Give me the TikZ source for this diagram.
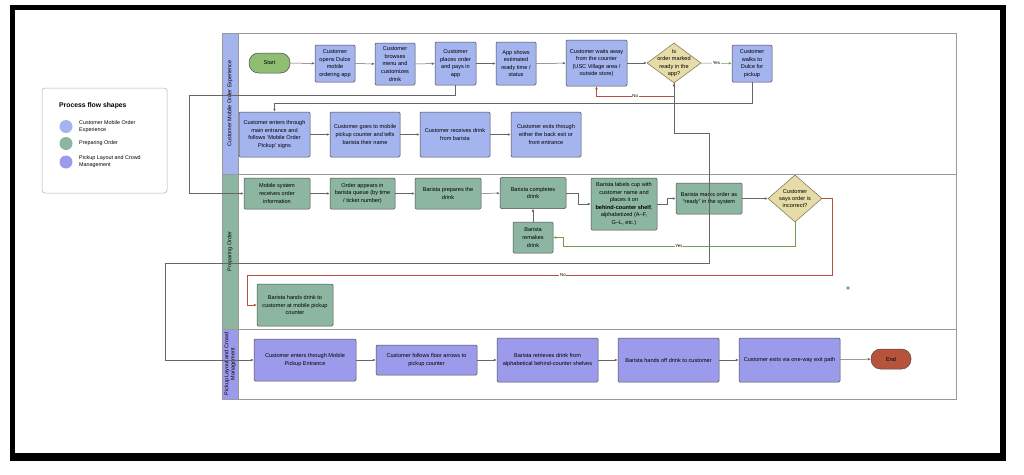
\documentclass[tikz,border=0pt]{standalone}
\usepackage{fontspec}
\setmainfont{Liberation Sans}
\usepackage{xcolor}
\usetikzlibrary{shapes.geometric, arrows.meta, positioning}

\definecolor{laneblue}{HTML}{A4B4EE}
\definecolor{lanegreen}{HTML}{8DB6A2}
\definecolor{lanepurple}{HTML}{9C9BEB}
\definecolor{decision}{HTML}{E6DCA8}
\definecolor{decborder}{HTML}{7A7050}
\definecolor{startgreen}{HTML}{8FBE73}
\definecolor{endred}{HTML}{B5533B}
\definecolor{nored}{HTML}{B5503C}
\definecolor{yesgreen}{HTML}{6E9E4E}
\definecolor{dotteal}{HTML}{5AA6A0}

\begin{document}
\begin{tikzpicture}[x=1pt, y=-1pt,
            box/.style={draw=black!70, rectangle, rounded corners=1.2pt, line width=0.5pt, align=center, inner sep=1pt, font=\fontsize{5.6}{7.6}\selectfont},
            sz/.style 2 args={minimum width=#1pt, minimum height=#2pt},
            dec/.style={draw=decborder, diamond, fill=decision, line width=0.5pt, inner sep=0pt},
            dectext/.style={align=center, inner sep=0pt, font=\fontsize{5.6}{7.4}\selectfont},
            ends/.style={draw=black!70, rectangle, rounded corners=9.5pt, line width=0.5pt, font=\fontsize{5.6}{7}\selectfont, minimum width=41pt, minimum height=20pt},
            flow/.style={draw=black!60, line width=0.5pt, -{Latex[length=3pt, width=2.6pt]}},
            noflow/.style={flow, draw=nored},
            yesflow/.style={flow, draw=yesgreen},
            tag/.style={fill=white, inner sep=0.6pt, font=\fontsize{4.4}{5}\selectfont},
            lane/.style={draw=black!40, line width=0.5pt},
            lanetitle/.style={rotate=90, align=center, inner sep=0pt, font=\fontsize{5.5}{6.3}\selectfont},
            legtext/.style={anchor=west, align=left, inner sep=0pt, font=\fontsize{5.4}{7}\selectfont}]

            \useasboundingbox (0,0) rectangle (1024,474);
            \fill[black] (10,5) rectangle (1006,461);
            \fill[white] (15,10) rectangle (1000,453);

            % legend
            \draw[black!30, line width=0.5pt, rounded corners=3pt] (42,88) rectangle (167,193);
            \node[anchor=west, inner sep=0pt, font=\fontsize{6.8}{8}\selectfont\bfseries] (legtitle) at (59,106) {Process flow shapes};
            \fill[laneblue] (66,126.5) circle (6.5);
            \fill[lanegreen] (66,143.5) circle (6.5);
            \fill[lanepurple] (66,162) circle (6.5);
            \node[legtext] (legA) at (79,126.5) {Customer Mobile Order\\Experience};
            \node[legtext] (legB) at (79,143.5) {Preparing Order};
            \node[legtext] (legC) at (79,162) {Pickup Layout and Crowd\\Management};

            % lanes
            \fill[laneblue] (222,33) rectangle (238,174);
            \fill[lanegreen] (222,174) rectangle (238,329);
            \fill[lanepurple] (222,329) rectangle (238,399);
            \draw[lane] (222,33) rectangle (956,399);
            \draw[lane] (222,174) -- (956,174);
            \draw[lane] (222,329) -- (956,329);
            \draw[lane] (238,33) -- (238,399);
            \node[lanetitle] (laneA) at (230,103.5) {Customer Mobile Order Experience};
            \node[lanetitle] (laneB) at (230,251.5) {Preparing Order};
            \node[lanetitle] (laneC) at (230,364) {Pickup Layout and Crowd\\Management};

            % customer mobile order experience
            \node[ends, fill=startgreen] (start) at (269.5,63) {Start};
            \node[box, sz={40}{37}, fill=laneblue] (opens) at (335,63.5) {Customer\\opens Dulce\\mobile\\ordering app};
            \node[box, sz={40}{42}, fill=laneblue] (browses) at (395,64) {Customer\\browses\\menu and\\customizes\\drink};
            \node[box, sz={41}{43}, fill=laneblue] (places) at (455.5,63.5) {Customer\\places order\\and pays in\\app};
            \node[box, sz={40}{43}, fill=laneblue] (appshows) at (516,63.5) {App shows\\estimated\\ready time /\\status};
            \node[box, sz={61}{46}, fill=laneblue] (waits) at (596.5,63) {Customer waits away\\from the counter\\(USC Village area /\\outside store)};
            \node[dec, minimum width=54pt, minimum height=40pt, label={[dectext]center:Is\\order marked\\ready in the\\app?}] (ready) at (674,63) {};
            \node[box, sz={40}{37}, fill=laneblue] (walks) at (752,63.5) {Customer\\walks to\\Dulce for\\pickup};
            \node[box, sz={71}{45}, fill=laneblue] (enters) at (274.5,134.5) {Customer enters through\\main entrance and\\follows `Mobile Order\\Pickup' signs};
            \node[box, sz={70}{45}, fill=laneblue] (goes) at (365,134.5) {Customer goes to mobile\\pickup counter and tells\\barista their name};
            \node[box, sz={70}{45}, fill=laneblue] (receives) at (455,134.5) {Customer receives drink\\from barista};
            \node[box, sz={70}{45}, fill=laneblue] (leaves) at (546,134.5) {Customer exits through\\either the back exit or\\front entrance};

            % preparing order
            \node[box, sz={66}{31}, fill=lanegreen] (mobile) at (277,193.5) {Mobile system\\receives order\\information};
            \node[box, sz={65}{31}, fill=lanegreen] (queue) at (362.5,193.5) {Order appears in\\barista queue (by time\\/ ticket number)};
            \node[box, sz={66}{31}, fill=lanegreen] (prepares) at (448,193.5) {Barista prepares the\\drink};
            \node[box, sz={66}{31}, fill=lanegreen] (completes) at (533,193) {Barista completes\\drink};
            \node[box, sz={66}{52}, fill=lanegreen] (labels) at (624,204) {Barista labels cup with\\customer name and\\places it on\\\textbf{behind-counter shelf},\\alphabetized (A--F,\\G--L, etc.)};
            \node[box, sz={66}{31}, fill=lanegreen] (marks) at (709,198.5) {Barista marks order as\\``ready'' in the system};
            \node[dec, minimum width=54pt, minimum height=47pt, label={[dectext]center:Customer\\says order is\\incorrect?}] (wrong) at (795,198.5) {};
            \node[box, sz={40}{31}, fill=lanegreen] (remakes) at (533,237.5) {Barista\\remakes\\drink};
            \node[box, sz={76}{42}, fill=lanegreen] (hands) at (295,305) {Barista hands drink to\\customer at mobile pickup\\counter};
            \fill[dotteal] (848,288) circle (1.8);

            % pickup layout and crowd management
            \node[box, sz={102}{42}, fill=lanepurple] (pentry) at (305,360) {Customer enters through Mobile\\Pickup Entrance};
            \node[box, sz={101}{30}, fill=lanepurple] (floor) at (426.5,360) {Customer follows floor arrows to\\pickup counter};
            \node[box, sz={101}{44}, fill=lanepurple] (retrieves) at (547.5,360) {Barista retrieves drink from\\alphabetical behind-counter shelves};
            \node[box, sz={101}{44}, fill=lanepurple] (handoff) at (668.5,360) {Barista hands off drink to customer};
            \node[box, sz={101}{44}, fill=lanepurple] (exitpath) at (789.5,360) {Customer exits via one-way exit path};
            \node[ends, fill=endred, minimum width=40pt] (finish) at (891,359) {End};

            \coordinate (noA) at (674,96);
            \coordinate (bendA) at (189,95);
            \coordinate (bendB) at (709,133);
            \coordinate (bendC) at (165,263);
            \coordinate (bendD) at (563,246);
            \coordinate (bendE) at (832,275);
            \coordinate (bendF) at (247,275);

            \draw[flow] (start) -- (opens);
            \draw[flow] (opens) -- (browses);
            \draw[flow] (browses) -- (places);
            \draw[flow] (places) -- (appshows);
            \draw[flow] (appshows) -- (waits);
            \draw[flow] (waits) -- (ready);
            \draw[yesflow] (ready) -- node[tag] {Yes} (walks);
            \draw[noflow] (ready.south) -- (noA) -| node[tag, pos=0.25] {No} (waits.south);
            \draw[flow] (walks.south) -- ++(0,21) -| (enters.north);
            \draw[flow] (enters) -- (goes);
            \draw[flow] (goes) -- (receives);
            \draw[flow] (receives) -- (leaves);
            \draw[flow] (places.south) |- (bendA) |- (mobile.west);

            \draw[flow] (mobile) -- (queue);
            \draw[flow] (queue) -- (prepares);
            \draw[flow] (prepares) -- (completes);
            \draw[flow] (completes.east) -- ++(12,0) |- (labels.west);
            \draw[flow] (labels.east) -- ++(10,0) |- (marks.west);
            \draw[flow] (marks) -- (wrong);
            \draw[flow] (marks.north) -- (bendB) -| (ready.south);
            \draw[flow] (marks.north) |- (bendC) |- (pentry.west);
            \draw[yesflow] (wrong.south) |- node[tag, pos=0.75] {Yes} (bendD) |- (remakes.east);
            \draw[flow] (remakes) -- (completes);
            \draw[noflow] (wrong.east) -| (bendE) -- node[tag, pos=0.46] {No} (bendF) |- (hands.west);

            \draw[flow] (pentry) -- (floor);
            \draw[flow] (floor) -- (retrieves);
            \draw[flow] (retrieves) -- (handoff);
            \draw[flow] (handoff) -- (exitpath);
            \draw[flow] (exitpath) -- (finish);
        \end{tikzpicture}
\end{document}
